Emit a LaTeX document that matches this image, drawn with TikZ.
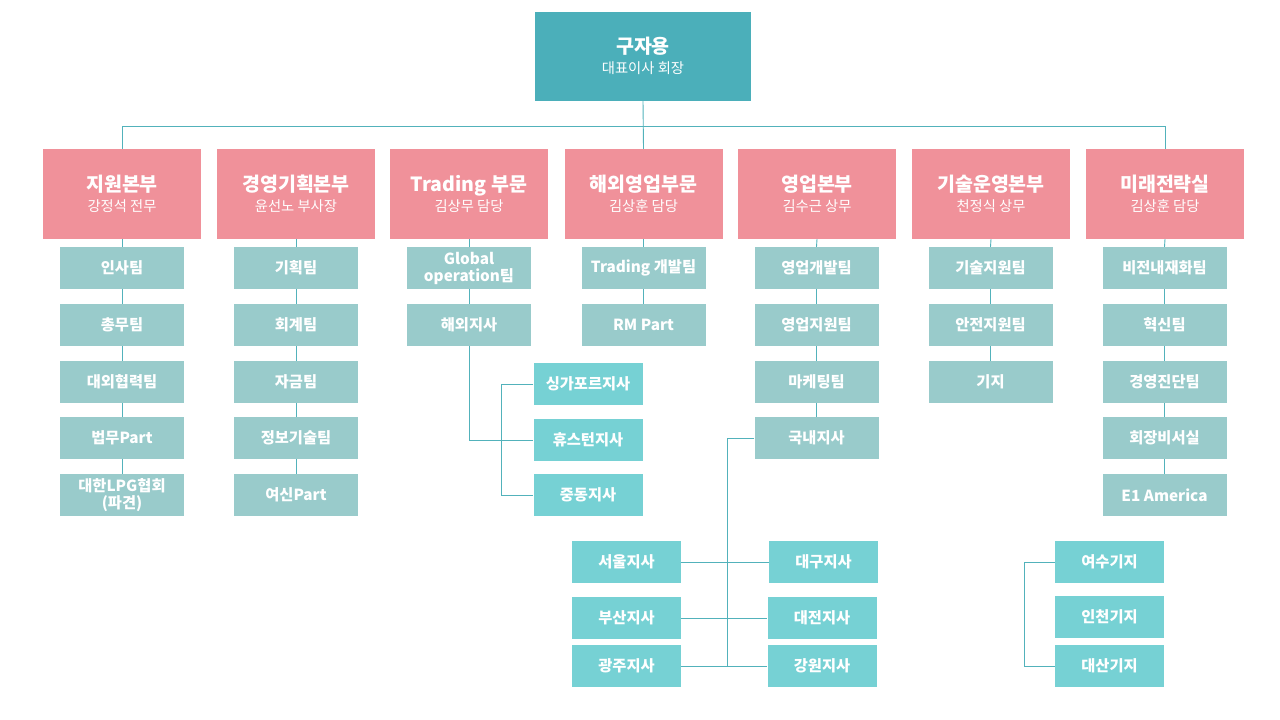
\documentclass[tikz,border=0pt]{standalone}
\usepackage{fontspec}
\setmainfont{Noto Sans CJK KR}
\usepackage{tikz}

\definecolor{ceoteal}{HTML}{4BAFBA}
\definecolor{headpink}{HTML}{F0919A}
\definecolor{teamgray}{HTML}{99CBCB}
\definecolor{branchteal}{HTML}{76D1D4}
\definecolor{linkteal}{HTML}{52B2BB}

\newcommand{\hd}[2]{{\fontsize{19.5}{19}\selectfont\bfseries #1}\\#2}

\begin{document}
\begin{tikzpicture}[x=1pt,y=-1pt]
\tikzstyle{every node}+=[inner sep=0pt, text=white, align=center]
\tikzstyle{ceobox}=[rectangle, fill=ceoteal, minimum width=216, minimum height=89, font=\fontsize{14.3}{19.5}\selectfont]
\tikzstyle{headbox}=[rectangle, fill=headpink, minimum width=158, minimum height=90, font=\fontsize{14.3}{19.5}\selectfont]
\tikzstyle{teambox}=[rectangle, fill=teamgray, minimum width=124, minimum height=42, font=\fontsize{15.3}{17}\selectfont\bfseries]
\tikzstyle{branchbox}=[rectangle, fill=branchteal, minimum width=109, minimum height=42, font=\fontsize{15.3}{17}\selectfont\bfseries]
\tikzstyle{link}=[draw=linkteal, line width=0.9pt]
\useasboundingbox (0,0) rectangle (1280,720);
% top
\node [ceobox] (ceo) at (643,56) {\hd{구자용}{대표이사 회장}};
% divisions
\node [headbox] (h1) at (122,194) {\hd{지원본부}{강정석 전무}};
\node [headbox] (h2) at (296,194) {\hd{경영기획본부}{윤선노 부사장}};
\node [headbox] (h3) at (469,194) {\hd{Trading 부문}{김상무 담당}};
\node [headbox] (h4) at (643.5,194) {\hd{해외영업부문}{김상훈 담당}};
\node [headbox] (h5) at (817,194) {\hd{영업본부}{김수근 상무}};
\node [headbox] (h6) at (991,194) {\hd{기술운영본부}{천정식 상무}};
\node [headbox] (h7) at (1165,194) {\hd{미래전략실}{김상훈 담당}};
% teams
\node [teambox] (t11) at (122,268) {인사팀};
\node [teambox] (t12) at (122,325) {총무팀};
\node [teambox] (t13) at (122,382) {대외협력팀};
\node [teambox] (t14) at (122,438) {법무Part};
\node [teambox] (t15) at (122,495) {대한LPG협회\\(파견)};
\node [teambox] (t21) at (296,268) {기획팀};
\node [teambox] (t22) at (296,325) {회계팀};
\node [teambox] (t23) at (296,382) {자금팀};
\node [teambox] (t24) at (296,438) {정보기술팀};
\node [teambox] (t25) at (296,495) {여신Part};
\node [teambox] (t31) at (469,268) {Global\\operation팀};
\node [teambox] (t32) at (469,325) {해외지사};
\node [teambox] (t41) at (643.5,268) {Trading 개발팀};
\node [teambox] (t42) at (643.5,325) {RM Part};
\node [teambox] (t51) at (816.5,268) {영업개발팀};
\node [teambox] (t52) at (816.5,325) {영업지원팀};
\node [teambox] (t53) at (816.5,382) {마케팅팀};
\node [teambox] (t54) at (816.5,438) {국내지사};
\node [teambox] (t61) at (990.5,268) {기술지원팀};
\node [teambox] (t62) at (990.5,325) {안전지원팀};
\node [teambox] (t63) at (990.5,382) {기지};
\node [teambox] (t71) at (1164.5,268) {비전내재화팀};
\node [teambox] (t72) at (1164.5,325) {혁신팀};
\node [teambox] (t73) at (1164.5,382) {경영진단팀};
\node [teambox] (t74) at (1164.5,438) {회장비서실};
\node [teambox] (t75) at (1164.5,495) {E1 America};
% overseas branches
\node [branchbox] (sg) at (588,384) {싱가포르지사};
\node [branchbox] (hs) at (588,440) {휴스턴지사};
\node [branchbox] (jd) at (588,495) {중동지사};
% domestic branches
\node [branchbox] (se) at (626.5,562) {서울지사};
\node [branchbox] (bs) at (626.5,618) {부산지사};
\node [branchbox] (gj) at (626.5,666) {광주지사};
\node [branchbox] (dg) at (823.5,562) {대구지사};
\node [branchbox] (dj) at (822,618) {대전지사};
\node [branchbox] (gw) at (822,666) {강원지사};
% bases
\node [branchbox] (ys) at (1109.5,562) {여수기지};
\node [branchbox] (ic) at (1109.5,616.5) {인천기지};
\node [branchbox] (ds) at (1109.5,666) {대산기지};
% links
\coordinate (bus) at (643,126);
\draw [link] (ceo.south) -- (h4.north);
\draw [link] (h1.north) -- (h1.north |- bus) -- (h7.north |- bus) -- (h7.north);
\draw [link] (h1.south) -- (t11.north) (t11.south) -- (t12.north) (t12.south) -- (t13.north) (t13.south) -- (t14.north) (t14.south) -- (t15.north);
\draw [link] (h2.south) -- (t21.north) (t21.south) -- (t22.north) (t22.south) -- (t23.north) (t23.south) -- (t24.north) (t24.south) -- (t25.north);
\draw [link] (h3.south) -- (t31.north) (t31.south) -- (t32.north);
\draw [link] (h4.south) -- (t41.north) (t41.south) -- (t42.north);
\draw [link] (h5.south) -- (t51.north) (t51.south) -- (t52.north) (t52.south) -- (t53.north) (t53.south) -- (t54.north);
\draw [link] (h6.south) -- (t61.north) (t61.south) -- (t62.north) (t62.south) -- (t63.north);
\draw [link] (h7.south) -- (t71.north) (t71.south) -- (t72.north) (t72.south) -- (t73.north) (t73.south) -- (t74.north) (t74.south) -- (t75.north);
\draw [link] (t32.south) |- (hs.west);
\draw [link] (sg.west) -- ++(-32,0) |- (jd.west);
\coordinate (dom) at (727,438);
\draw [link] (t54.west) -- (dom) |- (gw.west);
\draw [link] (se.east) -- (dg.west);
\draw [link] (bs.east) -- (dj.west);
\draw [link] (gj.east) -- (gw.west);
\draw [link] (ys.west) -- ++(-30,0) |- (ds.west);
\end{tikzpicture}
\end{document}
